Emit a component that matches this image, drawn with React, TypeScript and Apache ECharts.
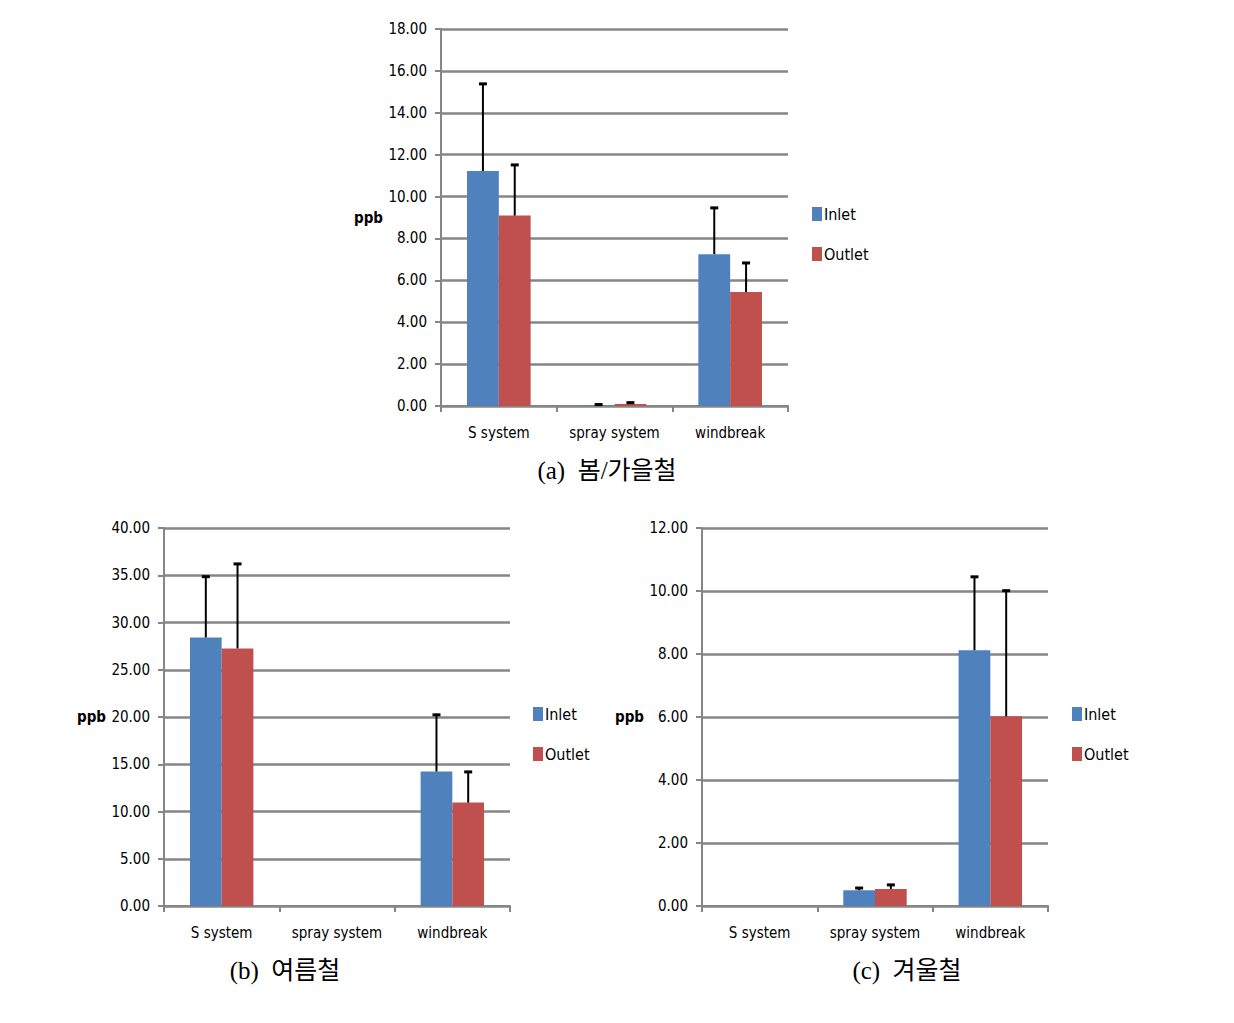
import React, { useEffect, useRef } from "react";
import * as echarts from "echarts";

const categories = ["S system", "spray system", "windbreak"];
const seriesNames = ["Inlet", "Outlet"];

// (a) spring/autumn
const springInlet = [11.22, 0.02, 7.25];
const springInletErr = [4.16, 0.05, 2.21];
const springOutlet = [9.09, 0.09, 5.44];
const springOutletErr = [2.42, 0.07, 1.39];

// (b) summer
const summerInlet = [28.42, 0, 14.23];
const summerInletErr = [6.43, 0, 6.0];
const summerOutlet = [27.26, 0, 10.94];
const summerOutletErr = [8.94, 0, 3.25];

// (c) winter
const winterInlet = [0, 0.5, 8.12];
const winterInletErr = [0, 0.07, 2.33];
const winterOutlet = [0, 0.54, 6.02];
const winterOutletErr = [0, 0.13, 3.99];

const yMax = [18, 40, 12];
const yInterval = [2, 5, 2];
const captions = ["(a)  봄/가을철", "(b)  여름철", "(c)  겨울철"];
const axisName = "ppb";

const BLUE = "#4F81BD";
const RED = "#C0504D";
const GRAY = "#868686";
const GAP = 0.45;
const FONT = "'DejaVu Sans Condensed', 'Liberation Sans Narrow', Roboto, sans-serif";

const grids = [
  { left: 441, top: 29, width: 347, height: 377 },
  { left: 164, top: 528, width: 346, height: 378 },
  { left: 702, top: 528, width: 346, height: 378 },
];
const legendPos = [
  { left: 812, top: 206 },
  { left: 533, top: 706 },
  { left: 1072, top: 706 },
];
const captionPos = [
  { x: 607, y: 470 },
  { x: 285, y: 970 },
  { x: 907, y: 970 },
];

const renderErr = (side: number) => (params: any, api: any) => {
  const cat = api.value(0);
  const v = api.value(1);
  const e = api.value(2);
  if (!e) return null;
  const base = api.coord([cat, v]);
  const top = api.coord([cat, v + e]);
  const catW = api.size([1, 0])[0];
  const bw = (catW * (1 - GAP)) / 2;
  const x = base[0] + (side * bw) / 2;
  return {
    type: "group",
    children: [
      { type: "line", shape: { x1: x, y1: base[1], x2: x, y2: top[1] }, style: { stroke: "#000", lineWidth: 2 } },
      { type: "line", shape: { x1: x - 4, y1: top[1], x2: x + 4, y2: top[1] }, style: { stroke: "#000", lineWidth: 3 } },
    ],
  };
};

export default function App() {
  const ref = useRef<HTMLDivElement>(null);
  useEffect(() => {
    if (!ref.current) return;
    const chart = echarts.init(ref.current, undefined, { renderer: "svg" });
    const sets = [
      [springInlet, springInletErr, springOutlet, springOutletErr],
      [summerInlet, summerInletErr, summerOutlet, summerOutletErr],
      [winterInlet, winterInletErr, winterOutlet, winterOutletErr],
    ];
    const series: any[] = [];
    sets.forEach((s, i) => {
      const [inV, inE, outV, outE] = s;
      series.push({
        name: seriesNames[0], type: "bar", xAxisIndex: i, yAxisIndex: i, data: inV,
        itemStyle: { color: BLUE }, barGap: "0%", barCategoryGap: GAP * 100 + "%",
      });
      series.push({
        name: seriesNames[1], type: "bar", xAxisIndex: i, yAxisIndex: i, data: outV,
        itemStyle: { color: RED }, barGap: "0%", barCategoryGap: GAP * 100 + "%",
      });
      series.push({
        name: "InletErr", type: "custom", xAxisIndex: i, yAxisIndex: i, z: 5,
        renderItem: renderErr(-1), encode: { x: 0, y: 1 },
        data: inV.map((v, k) => [k, v, inE[k]]),
      });
      series.push({
        name: "OutletErr", type: "custom", xAxisIndex: i, yAxisIndex: i, z: 5,
        renderItem: renderErr(1), encode: { x: 0, y: 1 },
        data: outV.map((v, k) => [k, v, outE[k]]),
      });
    });
    chart.setOption({
      animation: false,
      backgroundColor: "#fff",
      grid: grids.map((g) => ({ ...g, containLabel: false })),
      xAxis: grids.map((_, i) => ({
        type: "category", gridIndex: i, data: categories,
        axisLine: { lineStyle: { color: GRAY, width: 2 } },
        axisTick: { show: true, length: 6, lineStyle: { color: GRAY, width: 2 } },
        axisLabel: { color: "#000", fontFamily: FONT, fontSize: 15, margin: 19, interval: 0 },
      })),
      yAxis: grids.map((_, i) => ({
        type: "value", gridIndex: i, min: 0, max: yMax[i], interval: yInterval[i],
        name: axisName, nameLocation: "middle", nameRotate: 0, nameGap: 58,
        nameTextStyle: { color: "#000", fontFamily: FONT, fontSize: 15, fontWeight: "bold", padding: [12, 0, 0, 0] },
        axisLine: { show: true, lineStyle: { color: GRAY, width: 2 } },
        axisTick: { show: true, length: 6, lineStyle: { color: GRAY, width: 2 } },
        splitLine: { lineStyle: { color: GRAY, width: 2.5 } },
        axisLabel: {
          color: "#000", fontFamily: FONT, fontSize: 15, margin: 14,
          formatter: (v: number) => v.toFixed(2),
        },
      })),
      legend: legendPos.map((p) => ({
        ...p, orient: "vertical", data: seriesNames, icon: "rect", padding: 0,
        itemWidth: 10, itemHeight: 14, itemGap: 24,
        textStyle: { color: "#000", fontFamily: FONT, fontSize: 16, padding: [0, 0, 0, -3] },
      })),
      graphic: captions.map((c, i) => ({
        type: "text", x: captionPos[i].x, y: captionPos[i].y,
        style: {
          text: c, fill: "#000", fontSize: 25, align: "center", verticalAlign: "middle",
          fontFamily: "'Liberation Serif', 'DejaVu Serif', 'Noto Sans CJK KR', serif",
        },
      })),
      series,
    });
    return () => chart.dispose();
  }, []);
  return (
    <div
      ref={ref}
      style={{ position: "absolute", left: 0, top: 0, width: 1234, height: 1023 }}
    />
  );
}
